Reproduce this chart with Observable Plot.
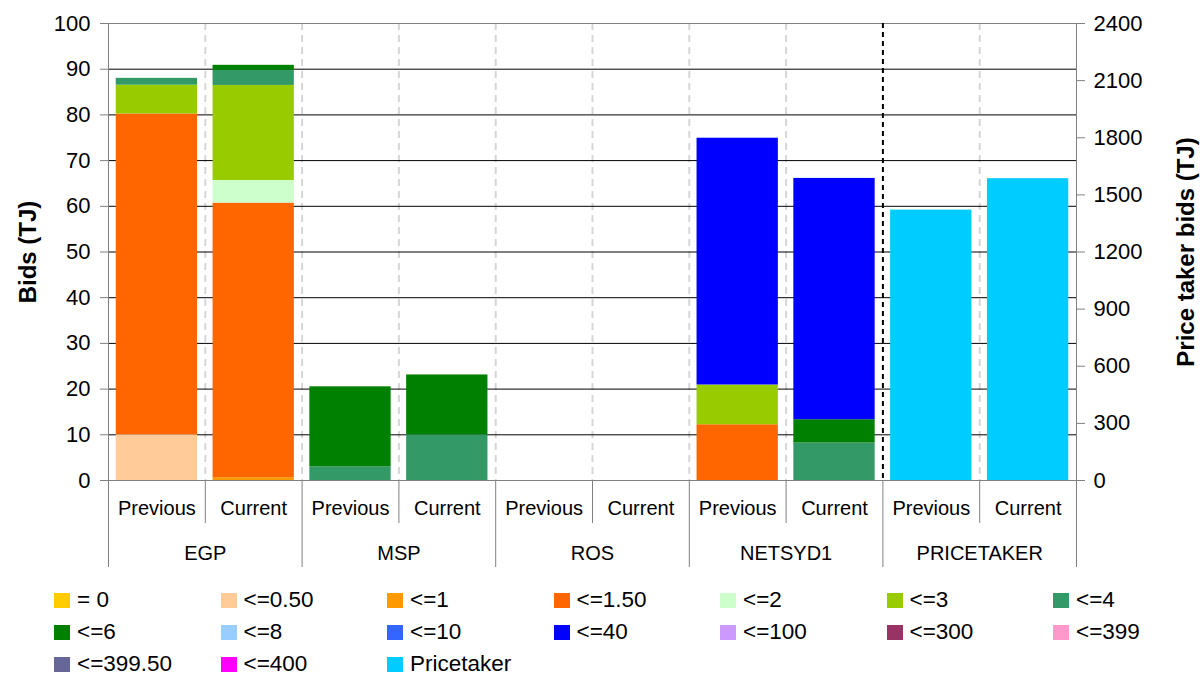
<!DOCTYPE html>
<html>
<head>
<meta charset="utf-8">
<script src="https://cdn.jsdelivr.net/npm/d3@7"></script>
<script src="https://cdn.jsdelivr.net/npm/@observablehq/plot@0.6"></script>
<style>
  body { margin: 0; background: #fff; font-family: "Liberation Sans", Arial, sans-serif; }
  #legend { display: grid; grid-template-columns: repeat(7, 166.5px); grid-auto-rows: 32px; padding-left: 54px; }
  .item { display: flex; align-items: center; height: 32px; font-size: 22.5px; line-height: 20px; color: #000; white-space: nowrap; }
  .sw { width: 16px; height: 15px; margin-right: 7px; flex: none; }
</style>
</head>
<body>
<div id="chart"></div>
<div id="legend"></div>
<script>
// Participants and bid periods
const groups = ["EGP", "MSP", "ROS", "NETSYD1", "PRICETAKER"];
const periods = ["Previous", "Current"];

// Price bands ($/GJ) and their colours
const buckets = ["= 0", "<=0.50", "<=1", "<=1.50", "<=2", "<=3", "<=4", "<=6", "<=8",
  "<=10", "<=40", "<=100", "<=300", "<=399", "<=399.50", "<=400", "Pricetaker"];
const bucketColors = ["#FFCC00", "#FFCC99", "#FF9900", "#FF6600", "#CCFFCC", "#99CC00", "#339966",
  "#008000", "#99CCFF", "#3366FF", "#0000FF", "#CC99FF", "#993366", "#FF99CC", "#666699", "#FF00FF", "#00CCFF"];

// Bid quantities (TJ) per price band, bottom to top
const egpPrevious = [["<=0.50", 10], ["<=1.50", 70.2], ["<=3", 6.3], ["<=4", 1.5]];
const egpCurrent = [["<=1", 0.6], ["<=1.50", 60.1], ["<=2", 4.95], ["<=3", 20.8], ["<=4", 3.3], ["<=6", 1.1]];
const mspPrevious = [["<=4", 3.0], ["<=6", 17.5]];
const mspCurrent = [["<=4", 10], ["<=6", 13.1]];
const rosPrevious = [];
const rosCurrent = [];
const netsyd1Previous = [["<=1.50", 12.2], ["<=3", 8.7], ["<=40", 54.0]];
const netsyd1Current = [["<=4", 8.2], ["<=6", 5.1], ["<=40", 52.8]];

// Price taker bids (TJ), read on the right-hand axis
const pricetakerBids = [1420, 1585];

// Axis ticks
const leftTicks = d3.range(0, 101, 10);
const rightTicks = d3.range(0, 2401, 300);

const rightPerLeft = 2400 / 100;
const bidsByBar = {
  EGP: [egpPrevious, egpCurrent],
  MSP: [mspPrevious, mspCurrent],
  ROS: [rosPrevious, rosCurrent],
  NETSYD1: [netsyd1Previous, netsyd1Current]
};

const keys = groups.flatMap(g => periods.map(p => g + "|" + p));
const rows = [];
groups.forEach(g => periods.forEach((p, i) => {
  const key = g + "|" + p;
  const segs = g === "PRICETAKER"
    ? [["Pricetaker", pricetakerBids[i] / rightPerLeft]]
    : bidsByBar[g][i];
  segs.forEach(([bucket, value]) => rows.push({key, group: g, period: p, bucket, value}));
}));

const W = 1200, H = 584, mL = 108, mR = 124, mT = 23, mB = 104;
const step = (W - mL - mR) / keys.length;
const gray = "#808080";

const chart = Plot.plot({
  width: W,
  height: H,
  marginLeft: mL,
  marginRight: mR,
  marginTop: mT,
  marginBottom: mB,
  style: {fontFamily: "'Liberation Sans', Arial, sans-serif", fontSize: "22px", background: "#fff", color: "#000", overflow: "visible"},
  x: {domain: keys, paddingInner: 0.16, paddingOuter: 0.08, round: false, axis: null},
  y: {domain: [0, 100], axis: null},
  color: {type: "ordinal", domain: buckets, range: bucketColors},
  marks: [
    // slot dividers
    Plot.ruleX(keys.filter((k, i) => i > 0 && k !== "PRICETAKER|Previous"),
      {dx: -step / 2, stroke: "#d6d6d6", strokeWidth: 2, strokeDasharray: "7,5"}),
    // horizontal gridlines
    Plot.ruleY(leftTicks.filter(t => t > 0 && t < 100), {stroke: "#000", strokeWidth: 1}),
    // stacked bids
    Plot.barY(rows, {x: "key", y: "value", fill: "bucket"}),
    Plot.frame({stroke: gray}),
    // divider before the price taker group
    Plot.ruleX(["PRICETAKER|Previous"], {dx: -step / 2, stroke: "#000", strokeWidth: 2, strokeDasharray: "5,4"}),
    // category separators below the axis
    Plot.ruleX(keys.filter((k, i) => i % 2 === 1), {dx: -step / 2, y1: 0, y2: 0, insetBottom: -43, stroke: gray}),
    Plot.ruleX(keys.filter((k, i) => i % 2 === 0), {dx: -step / 2, y1: 0, y2: 0, insetBottom: -87, stroke: gray}),
    Plot.ruleX([keys[keys.length - 1]], {dx: step / 2, y1: 0, y2: 0, insetBottom: -87, stroke: gray}),
    // axes
    Plot.axisY({anchor: "left", ticks: leftTicks, tickSize: 8, tickPadding: 10, stroke: gray, fontSize: 22, label: null}),
    Plot.axisY({anchor: "right", ticks: rightTicks.map(v => v / rightPerLeft),
      tickFormat: v => String(Math.round(v * rightPerLeft)), tickSize: 8, tickPadding: 9, stroke: gray, fontSize: 22, label: null}),
    Plot.axisX({anchor: "bottom", tickSize: 0, tickPadding: 20, tickFormat: k => k.split("|")[1], fontSize: 20, label: null}),
    Plot.text(groups, {x: g => g + "|Previous", dx: step / 2, frameAnchor: "bottom", dy: 65, lineAnchor: "top",
      text: d => d, fontSize: 20, fill: "#000"}),
    // axis titles
    Plot.text(["Bids (TJ)"], {frameAnchor: "left", dx: -80, rotate: -90, textAnchor: "middle", lineAnchor: "middle",
      text: d => d, fontSize: 24, fontWeight: "bold", fill: "#000"}),
    Plot.text(["Price taker bids (TJ)"], {frameAnchor: "right", dx: 110, rotate: -90, textAnchor: "middle", lineAnchor: "middle",
      text: d => d, fontSize: 24, fontWeight: "bold", fill: "#000"})
  ]
});
document.getElementById("chart").append(chart);

// legend
const legend = d3.select("#legend");
buckets.forEach((b, i) => {
  const item = legend.append("div").attr("class", "item");
  item.append("div").attr("class", "sw").style("background", bucketColors[i]);
  item.append("span").text(b);
});
</script>
</body>
</html>
